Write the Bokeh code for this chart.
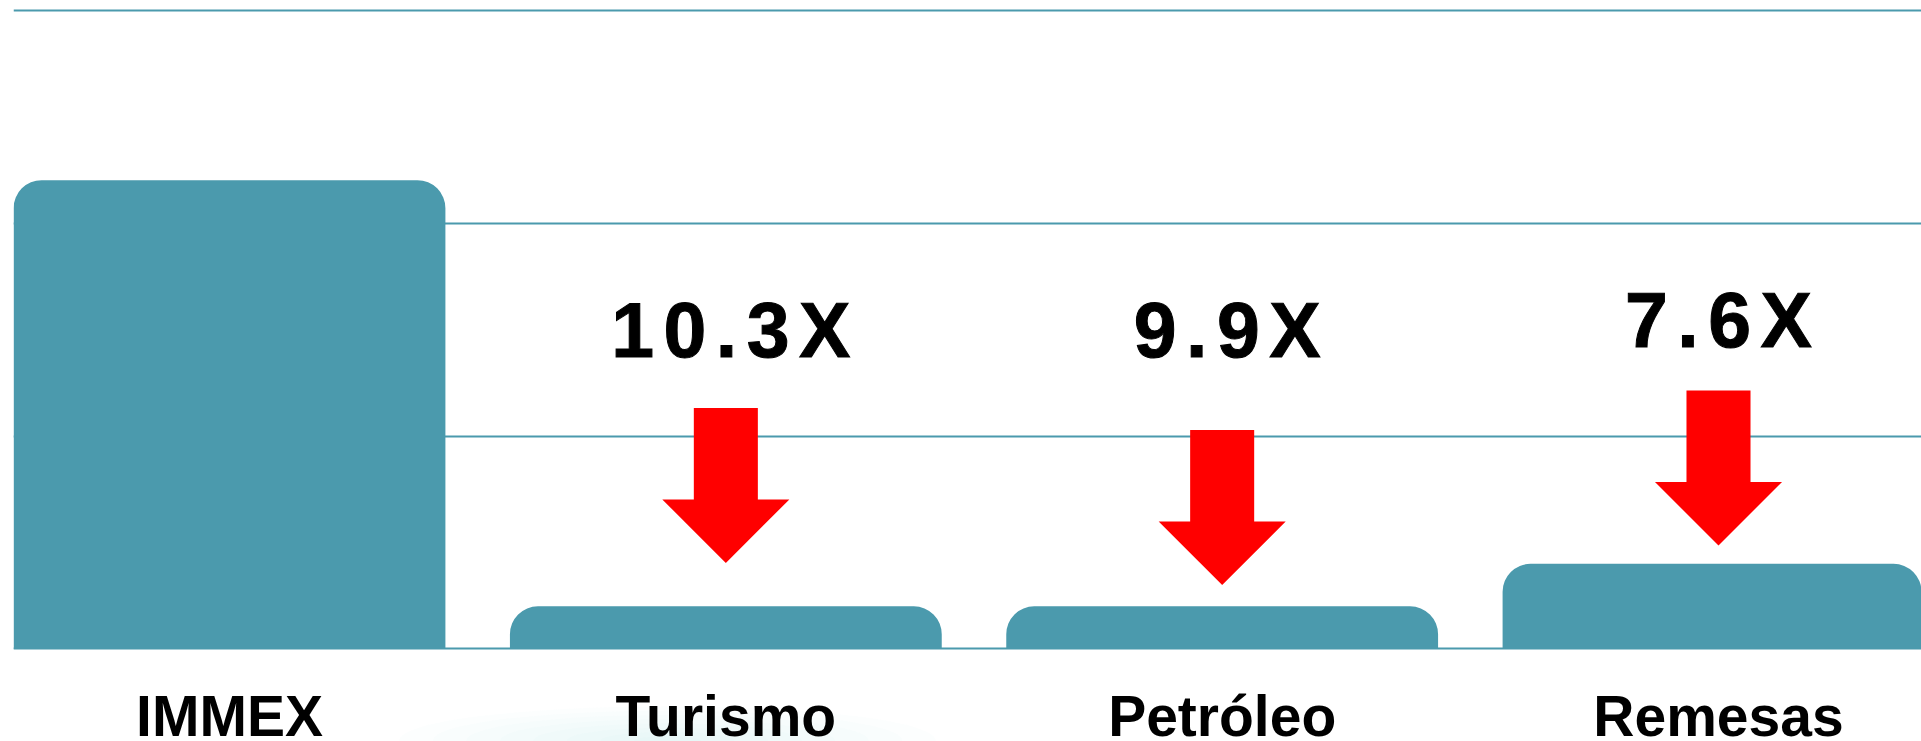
from bokeh.plotting import figure
from bokeh.models import Range1d, Grid, FixedTicker, ColumnDataSource
from bokeh.core.properties import value
from bokeh.embed import file_html
from bokeh.resources import INLINE

# ---- data ----
categories = ["IMMEX", "Turismo", "Petróleo", "Remesas"]
values = [220.2, 20.0, 20.0, 40.0]
multipliers = ["10.3X", "9.9X", "7.6X"]          # IMMEX vs. each other category
grid_ticks = [0, 100, 200, 300]

# ---- annotation layout (arrows / multiplier labels for categories 1..3) ----
arrow_tip = [40.4, 30.0, 48.6]
mult_y = [149.9, 149.6, 154.3]
mult_dx = [5, 5, 0]          # small pixel nudges of the multiplier labels

TEAL = "#4B9AAD"
RED = "#FF0000"

p = figure(width=1921, height=741, output_backend="svg", toolbar_location=None,
           x_range=Range1d(-0.4352, 3.409), y_range=Range1d(-43.5, 304.6),
           x_axis_location=None, y_axis_location=None,
           min_border_left=13, min_border_right=0, min_border_top=0, min_border_bottom=0)
p.outline_line_color = None
p.background_fill_color = "white"
p.border_fill_color = "white"
p.xgrid.visible = False
p.ygrid.visible = False

p.add_layout(Grid(dimension=1, ticker=FixedTicker(ticks=grid_ticks),
                  grid_line_color=TEAL, grid_line_width=2))

xs = list(range(len(categories)))

# faint glow at the bottom (background decoration)
for k in range(8):
    f = 1.0 - k / 8.0
    p.ellipse(x=0.8825, y=-43.0, width=1.08 * f, height=32 * f, fill_color="#A8D5D5",
              fill_alpha=0.035, line_color=None)

src = ColumnDataSource(dict(x=xs, top=values, cat=categories))
p.vbar(x="x", top="top", bottom=0, width=0.870, source=src,
       fill_color=TEAL, line_color=None, border_radius=(28, 28, 0, 0))

# arrows
sw, hw, hh, L = 0.0645, 0.128, 29.8, 72.8
axs, ays = [], []
for i, t in zip(xs[1:], arrow_tip):
    axs.append([i - sw, i + sw, i + sw, i + hw, i, i - hw, i - sw])
    ays.append([t + L, t + L, t + hh, t + hh, t, t + hh, t + hh])
p.patches(axs, ays, fill_color=RED, line_color=None)

# multiplier labels: heavy bold sans, widely tracked (placed character by character)
FS = 77           # font size, px
TRACK = 9.5       # extra spacing between characters, px
ADV = {c: 0.556 for c in "0123456789"}
ADV.update({".": 0.278, "X": 0.667})
cx, cy, ct, cdx = [], [], [], []
for i, s, y, nud in zip(xs[1:], multipliers, mult_y, mult_dx):
    adv = [ADV[c] * FS for c in s]
    total = sum(adv) + TRACK * (len(s) - 1)
    pos = -total / 2
    for c, a in zip(s, adv):
        cx.append(i)
        cy.append(y)
        ct.append(c)
        cdx.append(pos + a / 2 + nud)
        pos += a + TRACK
msrc = ColumnDataSource(dict(x=cx, y=cy, t=ct, dx=cdx))
p.text(x="x", y="y", text="t", x_offset="dx", source=msrc,
       text_font=value("Liberation Sans"), text_font_style="bold",
       text_font_size=f"{FS}px", text_color="black", text_outline_color="black",
       text_align="center", text_baseline="middle")

# category labels
p.text(x=xs, y=[-31.5] * len(xs), text=categories, text_font=value("Liberation Sans"),
       text_font_style="bold", text_font_size="57px", text_color="black",
       text_align="center", text_baseline="middle")

open("out.html", "w").write(file_html(p, INLINE))
